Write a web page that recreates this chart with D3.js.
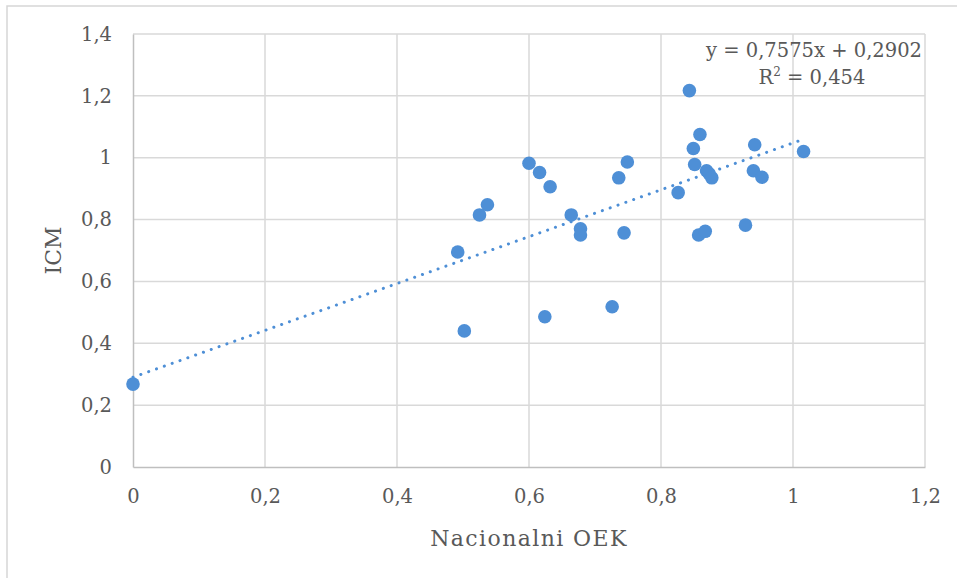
<!DOCTYPE html>
<html>
<head>
<meta charset="utf-8">
<script src="https://cdn.jsdelivr.net/npm/d3@7"></script>
<style>
  body { margin: 0; background: white; }
  text { font-family: "DejaVu Serif", serif; fill: #595959; }
</style>
</head>
<body>
<script>
// data
const oek = [0, 0.492, 0.502, 0.525, 0.537, 0.600, 0.616, 0.632, 0.624, 0.664, 0.678, 0.678,
  0.726, 0.736, 0.749, 0.744, 0.826, 0.843, 0.859, 0.849, 0.851, 0.869, 0.873, 0.877,
  0.857, 0.867, 0.928, 0.940, 0.942, 0.953, 1.016];
const icm = [0.268, 0.695, 0.440, 0.815, 0.848, 0.982, 0.952, 0.906, 0.486, 0.815, 0.770, 0.750,
  0.518, 0.935, 0.986, 0.757, 0.887, 1.217, 1.075, 1.030, 0.978, 0.958, 0.948, 0.935,
  0.750, 0.762, 0.782, 0.958, 1.042, 0.937, 1.020];
const xTicks = [0, 0.2, 0.4, 0.6, 0.8, 1, 1.2];
const yTicks = [0, 0.2, 0.4, 0.6, 0.8, 1, 1.2, 1.4];
const slope = 0.7575, intercept = 0.2902;
const eqLabel = "y = 0,7575x + 0,2902";
const r2Label = "0,454";

const w = 957, h = 578;
const fmt = d => String(d).replace(".", ",");

const svg = d3.select("body").append("svg")
  .attr("width", w)
  .attr("height", h);

// outer frame of the chart box
svg.append("rect")
  .attr("x", 7).attr("y", 6)
  .attr("width", 1000).attr("height", 700)
  .attr("fill", "none")
  .attr("stroke", "#d6d6d6")
  .attr("stroke-width", 1.5);

const xScale = d3.scaleLinear().domain([0, 1.2]).range([133, 925]);
const yScale = d3.scaleLinear().domain([0, 1.4]).range([467, 34]);

// grid
svg.append("g").selectAll("line")
  .data(xTicks.slice(1))
  .enter().append("line")
  .attr("x1", d => xScale(d)).attr("x2", d => xScale(d))
  .attr("y1", yScale(0)).attr("y2", yScale(1.4))
  .attr("stroke", "#d9d9d9").attr("stroke-width", 1.5);

svg.append("g").selectAll("line")
  .data(yTicks.slice(1))
  .enter().append("line")
  .attr("x1", xScale(0)).attr("x2", xScale(1.2))
  .attr("y1", d => yScale(d)).attr("y2", d => yScale(d))
  .attr("stroke", "#d9d9d9").attr("stroke-width", 1.5);

// axes
const xAxis = d3.axisBottom(xScale).tickValues(xTicks).tickFormat(fmt).tickSize(0).tickPadding(22);
const yAxis = d3.axisLeft(yScale).tickValues(yTicks).tickFormat(fmt).tickSize(0).tickPadding(21);

const gx = svg.append("g").attr("transform", "translate(0," + yScale(0) + ")").call(xAxis);
const gy = svg.append("g").attr("transform", "translate(" + xScale(0) + ",0)").call(yAxis);
[gx, gy].forEach(g => {
  g.select(".domain").attr("stroke", "#bfbfbf").attr("stroke-width", 1.5);
  g.selectAll("text").style("font-size", "19.5px").attr("fill", "#595959").style("font-family", "DejaVu Serif");
});

// axis titles
svg.append("text")
  .attr("x", xScale(0.6)).attr("y", 546)
  .attr("text-anchor", "middle")
  .style("font-size", "22px")
  .style("letter-spacing", "1.4px")
  .text("Nacionalni OEK");

svg.append("text")
  .attr("transform", "translate(61," + yScale(0.7) + ") rotate(-90)")
  .attr("text-anchor", "middle")
  .style("font-size", "22px")
  .text("ICM");

// trendline
const x0 = 0, x1 = d3.max(oek);
svg.append("line")
  .attr("x1", xScale(x0)).attr("y1", yScale(slope * x0 + intercept))
  .attr("x2", xScale(x1)).attr("y2", yScale(slope * x1 + intercept))
  .attr("stroke", "#4e8fd6")
  .attr("stroke-width", 3)
  .attr("stroke-linecap", "round")
  .attr("stroke-dasharray", "0.1,8.2");

// points
svg.append("g").selectAll("circle")
  .data(oek)
  .enter().append("circle")
  .attr("cx", d => xScale(d))
  .attr("cy", (d, i) => yScale(icm[i]))
  .attr("r", 6.8)
  .attr("fill", "#4e8fd6");

// equation
svg.append("text")
  .attr("x", 814).attr("y", 57)
  .attr("text-anchor", "middle")
  .style("font-size", "19.5px")
  .text(eqLabel);

const r2 = svg.append("text")
  .attr("x", 812).attr("y", 84)
  .attr("text-anchor", "middle")
  .style("font-size", "19.5px");
r2.append("tspan").text("R");
r2.append("tspan").attr("dy", -8).style("font-size", "12px").text("2");
r2.append("tspan").attr("dy", 8).text(" = " + r2Label);
</script>
</body>
</html>
